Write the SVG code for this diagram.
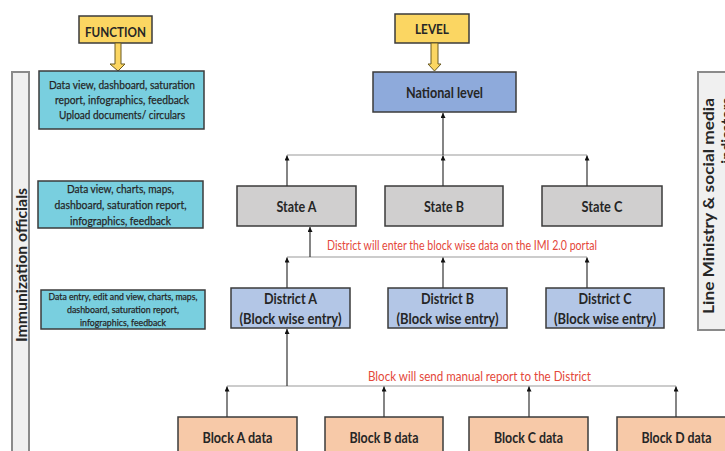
<svg xmlns="http://www.w3.org/2000/svg" width="725" height="451" viewBox="0 0 725 451">
  <style>
    .box { stroke: #3b3b3b; stroke-width: 1.5; }
    .yellow { fill: #fbd662; }
    .func { fill: #79cfdf; }
    .nat { fill: #8eaadb; }
    .state { fill: #d0cfcf; }
    .dist { fill: #b3c6e6; }
    .block { fill: #f7c9a8; }
    .bar { fill: #f0f0f0; stroke: #8a8a8a; stroke-width: 2; }
    .lbl { font-family: Lato, "Liberation Sans", sans-serif; fill: #262626; text-anchor: middle; }
    .b { font-weight: 700; }
    .end { text-anchor: end; }
    .ft { stroke: #262626; stroke-width: 0.25; }
    .note { font-family: Lato, "Liberation Sans", sans-serif; fill: #e4473a; font-size: 12.5px; text-anchor: middle; }
    .h { stroke: #9a9a9a; stroke-width: 1.2; fill: none; }
    .v { stroke: #333333; stroke-width: 1.2; fill: none; marker-end: url(#tip); }
  </style>
  <defs>
    <marker id="tip" markerUnits="userSpaceOnUse" markerWidth="6" markerHeight="6" refX="5" refY="2.5" orient="auto">
      <path d="M0,0 L5,2.5 L0,5 Z" fill="#111"/>
    </marker>
  </defs>

  <rect width="725" height="451" fill="#ffffff"/>

  <!-- side bars -->
  <g id="bar-officials">
    <rect class="bar" x="12" y="72" width="17" height="392"/>
    <text class="lbl b" font-size="15" transform="translate(27,265) rotate(-90)" textLength="154" lengthAdjust="spacingAndGlyphs">Immunization officials</text>
  </g>
  <g id="bar-line-ministry">
    <rect class="bar" x="698" y="72" width="40" height="258"/>
    <!-- rotated, right-aligned: both lines end at the top of the bar -->
    <text class="lbl b end" font-size="15" transform="translate(714,98) rotate(-90)" textLength="216" lengthAdjust="spacingAndGlyphs">Line Ministry &amp; social media</text>
    <text class="lbl b end" font-size="15" transform="translate(732,98) rotate(-90)">indicators</text>
  </g>

  <!-- headers -->
  <g id="hdr-function">
    <rect class="box yellow" x="79" y="16" width="73" height="27"/>
    <text class="lbl b" font-size="14" x="115.5" y="37" textLength="61" lengthAdjust="spacingAndGlyphs">FUNCTION</text>
    <path class="yellow" d="M115,43 H121 V64 H125 L118,71 L110,64 H115 Z" stroke="#6b5a20" stroke-width="1"/>
  </g>
  <g id="hdr-level">
    <rect class="box yellow" x="395" y="14" width="74" height="29"/>
    <text class="lbl b" font-size="14" x="432" y="34" textLength="34" lengthAdjust="spacingAndGlyphs">LEVEL</text>
    <path class="yellow" d="M431,43 H438 V64 H441 L434.5,71 L428,64 H431 Z" stroke="#6b5a20" stroke-width="1"/>
  </g>

  <!-- function boxes -->
  <g id="func-national">
    <rect class="box func" x="39" y="71" width="165" height="58"/>
    <text class="lbl ft" font-size="11.5" x="122" y="89" textLength="146" lengthAdjust="spacingAndGlyphs">Data view, dashboard, saturation</text>
    <text class="lbl ft" font-size="11.5" x="122" y="104" textLength="134" lengthAdjust="spacingAndGlyphs">report, infographics, feedback</text>
    <text class="lbl ft" font-size="11.5" x="122" y="119" textLength="126" lengthAdjust="spacingAndGlyphs">Upload documents/ circulars</text>
  </g>
  <g id="func-state">
    <rect class="box func" x="38" y="181" width="165" height="47"/>
    <text class="lbl ft" font-size="11.5" x="120.5" y="193" textLength="107" lengthAdjust="spacingAndGlyphs">Data view, charts, maps,</text>
    <text class="lbl ft" font-size="11.5" x="120.5" y="209" textLength="132" lengthAdjust="spacingAndGlyphs">dashboard, saturation report,</text>
    <text class="lbl ft" font-size="11.5" x="120.5" y="225" textLength="101" lengthAdjust="spacingAndGlyphs">infographics, feedback</text>
  </g>
  <g id="func-district">
    <rect class="box func" x="41" y="290" width="164" height="39"/>
    <text class="lbl ft" font-size="9.5" x="123" y="300" textLength="149" lengthAdjust="spacingAndGlyphs">Data entry, edit and view, charts, maps,</text>
    <text class="lbl ft" font-size="9.5" x="123" y="313" textLength="112" lengthAdjust="spacingAndGlyphs">dashboard, saturation report,</text>
    <text class="lbl ft" font-size="9.5" x="123" y="326" textLength="86" lengthAdjust="spacingAndGlyphs">infographics, feedback</text>
  </g>

  <!-- level nodes -->
  <g id="national">
    <rect class="box nat" x="373" y="72" width="143" height="40"/>
    <text class="lbl b" font-size="15" x="444.5" y="98" textLength="77" lengthAdjust="spacingAndGlyphs">National level</text>
  </g>
  <g id="state-a">
    <rect class="box state" x="237" y="186" width="119" height="40"/>
    <text class="lbl b" font-size="15" x="296.5" y="212" textLength="40" lengthAdjust="spacingAndGlyphs">State A</text>
  </g>
  <g id="state-b">
    <rect class="box state" x="385" y="186" width="118" height="40"/>
    <text class="lbl b" font-size="15" x="444" y="212" textLength="40" lengthAdjust="spacingAndGlyphs">State B</text>
  </g>
  <g id="state-c">
    <rect class="box state" x="542" y="186" width="120" height="40"/>
    <text class="lbl b" font-size="15" x="602" y="212" textLength="41" lengthAdjust="spacingAndGlyphs">State C</text>
  </g>
  <g id="district-a">
    <rect class="box dist" x="231" y="288" width="119" height="40"/>
    <text class="lbl b" font-size="15" x="290.5" y="304" textLength="53" lengthAdjust="spacingAndGlyphs">District A</text>
    <text class="lbl b" font-size="15" x="290.5" y="324" textLength="102" lengthAdjust="spacingAndGlyphs">(Block wise entry)</text>
  </g>
  <g id="district-b">
    <rect class="box dist" x="388" y="288" width="119" height="40"/>
    <text class="lbl b" font-size="15" x="447.5" y="304" textLength="53" lengthAdjust="spacingAndGlyphs">District B</text>
    <text class="lbl b" font-size="15" x="447.5" y="324" textLength="102" lengthAdjust="spacingAndGlyphs">(Block wise entry)</text>
  </g>
  <g id="district-c">
    <rect class="box dist" x="546" y="288" width="118" height="40"/>
    <text class="lbl b" font-size="15" x="605" y="304" textLength="53" lengthAdjust="spacingAndGlyphs">District C</text>
    <text class="lbl b" font-size="15" x="605" y="324" textLength="102" lengthAdjust="spacingAndGlyphs">(Block wise entry)</text>
  </g>
  <g id="block-a">
    <rect class="box block" x="178" y="417" width="119" height="45"/>
    <text class="lbl b" font-size="15" x="237.5" y="443" textLength="70" lengthAdjust="spacingAndGlyphs">Block A data</text>
  </g>
  <g id="block-b">
    <rect class="box block" x="325" y="417" width="118" height="45"/>
    <text class="lbl b" font-size="15" x="384" y="443" textLength="69" lengthAdjust="spacingAndGlyphs">Block B data</text>
  </g>
  <g id="block-c">
    <rect class="box block" x="469" y="417" width="119" height="45"/>
    <text class="lbl b" font-size="15" x="528.5" y="443" textLength="69" lengthAdjust="spacingAndGlyphs">Block C data</text>
  </g>
  <g id="block-d">
    <rect class="box block" x="617" y="417" width="119" height="45"/>
    <text class="lbl b" font-size="15" x="676.5" y="443" textLength="70" lengthAdjust="spacingAndGlyphs">Block D data</text>
  </g>

  <!-- connectors -->
  <g id="connectors">
    <line class="h" x1="287" y1="155" x2="587" y2="155"/>
    <line class="v" x1="443" y1="155" x2="443" y2="113"/>
    <line class="v" x1="287" y1="186" x2="287" y2="155.5"/>
    <line class="v" x1="443" y1="186" x2="443" y2="155.5"/>
    <line class="v" x1="587" y1="186" x2="587" y2="155.5"/>

    <line class="h" x1="287" y1="257" x2="587" y2="257"/>
    <line class="v" x1="310" y1="257" x2="310" y2="227"/>
    <line class="v" x1="287" y1="288" x2="287" y2="257.5"/>
    <line class="v" x1="443" y1="288" x2="443" y2="257.5"/>
    <line class="v" x1="587" y1="288" x2="587" y2="257.5"/>

    <line class="h" x1="227" y1="386" x2="676" y2="386"/>
    <line class="v" x1="287" y1="386" x2="287" y2="329"/>
    <line class="v" x1="227" y1="417" x2="227" y2="386.5"/>
    <line class="v" x1="384" y1="417" x2="384" y2="386.5"/>
    <line class="v" x1="529" y1="417" x2="529" y2="386.5"/>
    <line class="v" x1="676" y1="417" x2="676" y2="386.5"/>

    <text class="note" x="462" y="250" textLength="270" lengthAdjust="spacingAndGlyphs">District will enter the block wise data on the IMI 2.0 portal</text>
    <text class="note" x="479.5" y="381" textLength="223" lengthAdjust="spacingAndGlyphs">Block will send manual report to the District</text>
  </g>
</svg>
